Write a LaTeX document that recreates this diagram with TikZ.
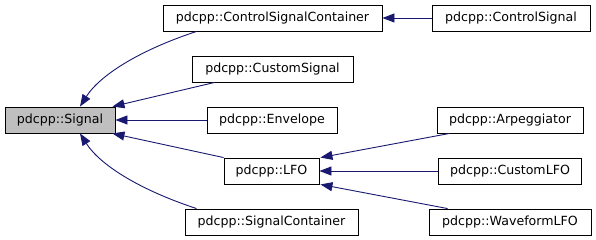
\documentclass[tikz,border=0pt]{standalone}
\usepackage{fontspec}
\setmainfont{DejaVu Sans}
\usetikzlibrary{arrows.meta}
\definecolor{edgeblue}{HTML}{191970}
\definecolor{curfill}{HTML}{BFBFBF}
\begin{document}
\begin{tikzpicture}[x=1pt,y=-1pt,
  cls/.style={draw=black,line width=0.9pt,fill=white,minimum height=26pt,
    inner sep=0pt,font=\fontsize{12.6}{15}\selectfont},
  edge/.style={draw=edgeblue,line width=0.9pt,
    -{Triangle[length=12pt,width=9pt,fill=edgeblue]}}]
\useasboundingbox[fill=white] (0,0) rectangle (596,240);

% base class
\node[cls,fill=curfill,minimum width=110pt] (sig) at (60,120) {pdcpp::Signal};

% direct subclasses
\node[cls,minimum width=219pt] (csc) at (272.5,18) {pdcpp::ControlSignalContainer};
\node[cls,minimum width=161pt] (cus) at (272.5,69) {pdcpp::CustomSignal};
\node[cls,minimum width=130pt] (env) at (272,120) {pdcpp::Envelope};
\node[cls,minimum width=95pt]  (lfo) at (271.5,171) {pdcpp::LFO};
\node[cls,minimum width=173pt] (sct) at (271.5,222) {pdcpp::SignalContainer};

% third level
\node[cls,minimum width=158pt] (csg) at (511,18) {pdcpp::ControlSignal};
\node[cls,minimum width=146pt] (arp) at (510,120) {pdcpp::Arpeggiator};
\node[cls,minimum width=143pt] (clf) at (510,171) {pdcpp::CustomLFO};
\node[cls,minimum width=162pt] (wlf) at (510,222) {pdcpp::WaveformLFO};

% inheritance edges
\draw[edge] ([xshift=34pt]csc.south west) .. controls (140,50) and (100,75) .. ([xshift=20pt]sig.north);
\draw[edge] ([xshift=23pt]cus.south west) -- ([xshift=-3pt]sig.north east);
\draw[edge] (env.west) -- (sig.east);
\draw[edge] (lfo.north west) -- ([xshift=-3pt]sig.south east);
\draw[edge] ([xshift=12pt]sct.north west) .. controls (140,190) and (100,165) .. ([xshift=20pt]sig.south);

\draw[edge] (csg.west) -- (csc.east);
\draw[edge] ([xshift=13pt]arp.south west) -- ([xshift=1pt]lfo.north east);
\draw[edge] (clf.west) -- (lfo.east);
\draw[edge] ([xshift=19pt]wlf.north west) -- ([xshift=1pt]lfo.south east);
\end{tikzpicture}
\end{document}
